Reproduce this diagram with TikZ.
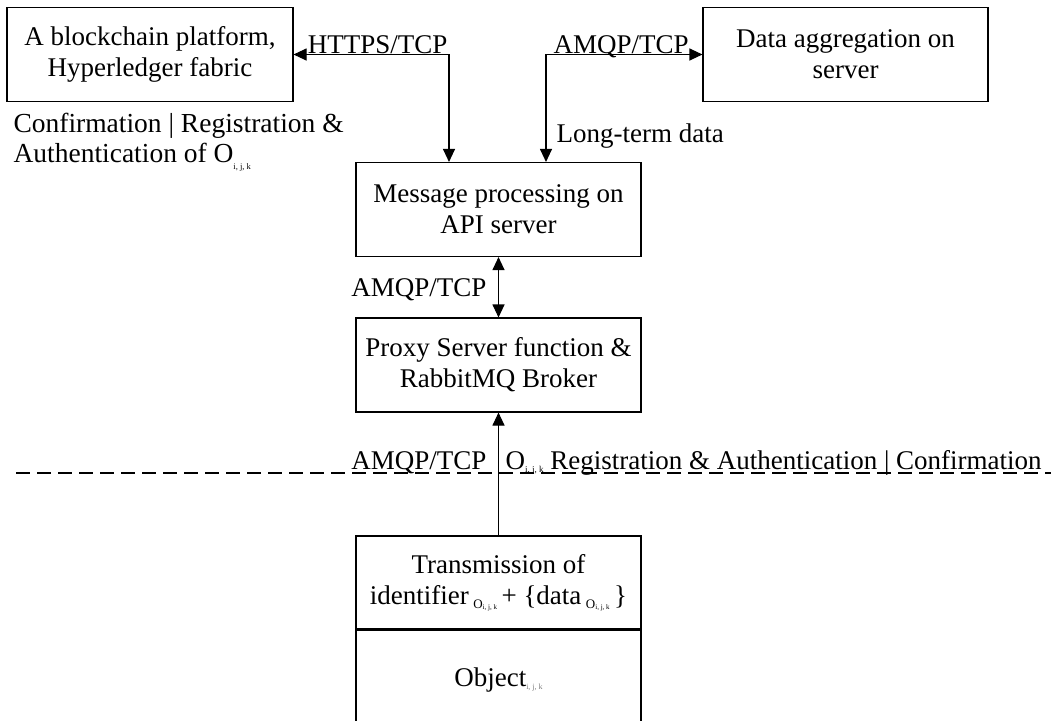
\documentclass[tikz,border=0pt]{standalone}
\usepackage{fontspec}
\setmainfont{Liberation Serif}
\usetikzlibrary{arrows.meta}
\newcommand\ijksub{\raisebox{-7pt}{\fontsize{8.5}{8.5}\selectfont i, j, k}}
\newcommand\ijksubb{\raisebox{-3pt}{\fontsize{9}{9}\selectfont i, j, k}}
\newcommand\Osub{\raisebox{-4pt}{\fontsize{13}{13}\selectfont O\raisebox{-1pt}{\fontsize{7}{7}\selectfont i, j, k}}}
\newcommand\objsub{\raisebox{-3pt}{\fontsize{8}{8}\selectfont\color{gray}i, j, k}}
\begin{document}
\begin{tikzpicture}[x=1pt,y=-1pt, line width=1.1pt,
  every node/.style={font=\fontsize{27}{31}\selectfont},
  box/.style={draw, line width=1.1pt, minimum width=285pt, minimum height=94pt, align=center, inner sep=0pt},
  lbl/.style={inner sep=0pt},
  arr/.style={-{Triangle[length=13pt,width=12pt]}},
  dbl/.style={{Triangle[length=13pt,width=12pt]}-{Triangle[length=13pt,width=12pt]}}]
\useasboundingbox (0,0) rectangle (1051,720);
\clip (0,0) rectangle (1051,720);
\node[box, minimum width=286pt] (bc) at (150,54.5) {A blockchain platform,\\Hyperledger fabric};
\node[box] (agg) at (845.5,54.5) {Data aggregation on\\server};
\node[box] (msg) at (498.5,209.5) {Message processing on\\API server};
\node[box] (proxy) at (498.5,365) {Proxy Server function \&\\RabbitMQ Broker};
\node[box, minimum height=93pt] (trans) at (498.5,582.5) {Transmission of\\identifier\,\Osub\,+ \{data\,\Osub\,\}};
\node[box, minimum height=100pt, anchor=north] (obj) at (trans.south) {\raisebox{-6pt}{Object\objsub}};
% connectors
\coordinate (m1) at ([xshift=-49.5pt]msg.north);
\coordinate (m2) at ([xshift=47.5pt]msg.north);
\draw[dbl] (bc.east) -| (m1);
\draw[dbl] (agg.west) -| (m2);
\draw[dbl] (msg.south) -- (proxy.north);
\draw[arr] (trans.north) -- (proxy.south);
% dashed boundary
\coordinate (dl) at (16,473);
\coordinate (dr) at (1051,473);
\draw[dash pattern=on 14pt off 7pt] (dl) -- (dr);
% labels
\node[lbl, anchor=base east] (l1) at (448,53) {HTTPS/TCP};
\node[lbl, anchor=base west] (l2) at (553,53) {AMQP/TCP};
\node[lbl, anchor=base west, font=\fontsize{27.5}{31}\selectfont] (l3) at (13,132) {Confirmation | Registration \&};
\node[lbl, anchor=base west, font=\fontsize{27.5}{31}\selectfont] (l4) at (13,162) {Authentication of O\ijksub};
\node[lbl, anchor=base west] (l5) at (556,142) {Long-term data};
\node[lbl, anchor=base east] (l6) at (487,296) {AMQP/TCP};
\node[lbl, anchor=base east] (l7) at (487,469) {AMQP/TCP};
\node[lbl, anchor=base west] (l8) at (505,469) {O\ijksubb\ Registration \& Authentication | Confirmation};
\end{tikzpicture}
\end{document}
